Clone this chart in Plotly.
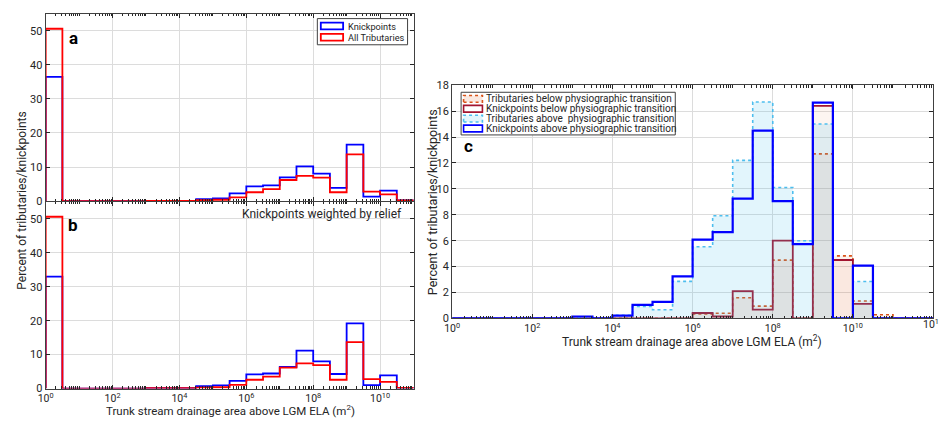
import plotly.graph_objects as go

# ---------------- data ----------------
# half-decade bins (log10 edges)
edges_ab = [i * 0.5 for i in range(23)]   # 10^0 .. 10^11
edges_c = [i * 0.5 for i in range(25)]    # 10^0 .. 10^12

knickpoints = [36.5, 0, 0, 0, 0, 0, 0.1, 0.1, 0.1, 0.6, 0.8, 2.3, 4.3, 4.6, 7.0, 10.2, 8.1, 3.9, 16.6, 1.3, 3.1, 0.2]
all_tributaries = [50.6, 0, 0, 0, 0, 0, 0.1, 0.1, 0.1, 0.3, 0.4, 1.1, 2.6, 3.5, 6.2, 7.4, 6.9, 2.6, 13.7, 2.8, 2.0, 0.2]
knickpoints_relief = [33.0, 0, 0, 0, 0, 0, 0.1, 0.1, 0.1, 0.75, 0.95, 2.3, 4.2, 4.45, 6.4, 11.2, 8.0, 4.3, 19.2, 1.0, 3.9, 0.2]

tribs_below = [0, 0, 0, 0, 0, 0, 0.05, 0, 0, 0, 0, 0, 0.35, 0.4, 1.6, 0.95, 4.5, 0, 12.7, 4.83, 1.35, 0.28, 0, 0]
knick_below = [0, 0, 0, 0, 0, 0, 0, 0, 0, 0, 0, 0, 0.42, 0.15, 2.1, 0.68, 6.0, 0, 16.4, 4.51, 1.12, 0, 0, 0]
tribs_above = [0, 0, 0, 0, 0, 0, 0.05, 0, 0.25, 0.93, 0.67, 2.86, 5.53, 7.93, 12.2, 16.7, 10.1, 6.0, 15.0, 0, 2.85, 0, 0, 0]
knick_above = [0, 0, 0, 0, 0, 0, 0.15, 0, 0.22, 1.05, 1.27, 3.25, 6.08, 6.66, 9.25, 14.5, 9.05, 5.74, 16.65, 0, 4.08, 0, 0, 0]

labels_c = ["Tributaries below physiographic transition",
            "Knickpoints below physiographic transition",
            "Tributaries above  physiographic transition",
            "Knickpoints above physiographic transition"]
labels_a = ["Knickpoints", "All Tributaries"]

FONT = "Roboto"
TXT = "#262626"
GRID = "#dcdcdc"
W, H = 939, 424


def stairs(vals, edge_exps):
    e = [10 ** v for v in edge_exps]
    x = [e[0]] + e[:-1] + [e[-1], e[-1]]
    y = [0] + list(vals) + [vals[-1], 0]
    return x, y


fig = go.Figure()


def add_stairs(vals, edges, color, width, dash, fillcolor, xa, ya):
    x, y = stairs(vals, edges)
    fig.add_trace(go.Scatter(
        x=x, y=y, mode="lines", line=dict(color=color, width=width, dash=dash, shape="hv"),
        fill="toself" if fillcolor else None, fillcolor=fillcolor,
        xaxis=xa, yaxis=ya, showlegend=False, hoverinfo="skip"))


# panel a
add_stairs(knickpoints, edges_ab, "#0000FF", 1.8, "solid", None, "x", "y")
add_stairs(all_tributaries, edges_ab, "#FF0000", 1.8, "solid", None, "x", "y")
# panel b
add_stairs(knickpoints_relief, edges_ab, "#0000FF", 1.8, "solid", None, "x2", "y2")
add_stairs(all_tributaries, edges_ab, "#FF0000", 1.8, "solid", None, "x2", "y2")
# panel c
c_styles = [
    ("#D95319", 1.6, "dot", "rgba(217,83,25,0.08)"),
    ("#A2142F", 1.8, "solid", "rgba(217,83,25,0.06)"),
    ("#4DBEEE", 1.6, "dot", "rgba(77,190,238,0.16)"),
    ("#0000FF", 2.2, "solid", None),
]
for vals, st in zip([tribs_below, knick_below, tribs_above, knick_above], c_styles):
    add_stairs(vals, edges_c, st[0], st[1], st[2], st[3], "x3", "y3")


def px(xp):
    return xp / W


def py(yp):
    return 1 - yp / H


def log_axis(domain, nmax, labels, anchor):
    majors = [10 ** n for n in range(0, nmax + 1, 2)]
    minors = []
    for n in range(0, nmax):
        for k in range(1, 10):
            v = k * 10 ** n
            if k == 1 and n % 2 == 0:
                continue
            minors.append(v)
    return dict(
        domain=domain, type="log", range=[0, nmax], anchor=anchor,
        tickmode="array", tickvals=majors,
        ticktext=["10<sup>%d</sup>" % n for n in range(0, nmax + 1, 2)],
        showticklabels=labels, ticks="inside", ticklen=4, tickcolor=TXT,
        showline=True, linecolor="#404040", linewidth=1, mirror="ticks",
        showgrid=True, gridcolor=GRID, gridwidth=1, zeroline=False,
        tickfont=dict(family=FONT, size=10.5, color=TXT),
        minor=dict(tickmode="array", tickvals=minors, ticks="inside", ticklen=2.5,
                   tickcolor=TXT, showgrid=False),
    )


def lin_axis(domain, rng, dt, anchor):
    return dict(
        domain=domain, range=rng, anchor=anchor, tickmode="linear", tick0=0, dtick=dt,
        ticks="inside", ticklen=4, tickcolor=TXT,
        showline=True, linecolor="#404040", linewidth=1, mirror="ticks",
        showgrid=True, gridcolor=GRID, gridwidth=1, zeroline=False,
        tickfont=dict(family=FONT, size=11, color=TXT),
    )


xa_dom = [px(38), px(409)]
fig.update_layout(
    width=W, height=H, margin=dict(l=0, r=0, t=0, b=0),
    plot_bgcolor="white", paper_bgcolor="white",
    xaxis=log_axis(xa_dom, 11, False, "y"),
    yaxis=lin_axis([py(201.3), py(8)], [0, 55], 10, "x"),
    xaxis2=log_axis(xa_dom, 11, True, "y2"),
    yaxis2=lin_axis([py(394.7), py(202)], [0, 55], 10, "x2"),
    xaxis3=log_axis([px(448), px(933)], 12, True, "y3"),
    yaxis3=lin_axis([py(322.3), py(81.7)], [0, 18], 2, "x3"),
    showlegend=False,
)

ann = []
shapes = []


def text(x, y, s, size=11, bold=False, xanchor="left", angle=0):
    ann.append(dict(x=px(x), y=py(y), xref="paper", yref="paper", text="<b>%s</b>" % s if bold else s,
                    showarrow=False, xanchor=xanchor, yanchor="middle", textangle=angle, borderpad=0,
                    font=dict(family=FONT, size=size, color=TXT if not bold else "black")))


# panel letters and notes
text(61, 33, "a", 17, True)
text(60, 226, "b", 17, True)
text(459, 144, "c", 17, True)
text(398, 215, "Knickpoints weighted by relief", 12, xanchor="right")

# last tick label of panel c (cut by the page edge, as in the original)
text(933, 328, "10<sup>12</sup>", 10.5, xanchor="center")

# axis titles
text(224, 417, "Trunk stream drainage area above LGM ELA (m<sup>2</sup>)", 11.5, xanchor="center")
text(14, 201, "Percent of tributaries/knickpoints", 12, xanchor="center", angle=-90)
text(690, 346, "Trunk stream drainage area above LGM ELA (m<sup>2</sup>)", 12, xanchor="center")
text(428, 202, "Percent of tributaries/knickpoints", 12.5, xanchor="center", angle=-90)

# legend panel a
shapes.append(dict(type="rect", xref="paper", yref="paper", x0=px(312), x1=px(403), y0=py(40), y1=py(13),
                   line=dict(color="#404040", width=1), fillcolor="white", layer="above"))
for i, (lab, col) in enumerate(zip(labels_a, ["#0000FF", "#FF0000"])):
    yc = 20.7 + i * 11.6
    shapes.append(dict(type="rect", xref="paper", yref="paper", x0=px(315.5), x1=px(338), y0=py(yc + 3.5),
                       y1=py(yc - 3.5), line=dict(color=col, width=1.8), fillcolor="white", layer="above"))
    text(341.5, yc, lab, 9.2)

# legend panel c
shapes.append(dict(type="rect", xref="paper", yref="paper", x0=px(457), x1=px(673), y0=py(133), y1=py(89),
                   line=dict(color="#404040", width=1), fillcolor="white", layer="above"))
leg_fill = ["rgba(250,232,224,1)", "white", "rgba(226,245,252,1)", "white"]
for i, (lab, st) in enumerate(zip(labels_c, c_styles)):
    yc = 95.8 + i * 10.2
    shapes.append(dict(type="rect", xref="paper", yref="paper", x0=px(459.5), x1=px(478.5), y0=py(yc + 3.5),
                       y1=py(yc - 3.5), line=dict(color=st[0], width=1.6, dash=st[2]),
                       fillcolor=leg_fill[i], layer="above"))
    text(481.5, yc, lab, 10)

fig.update_layout(annotations=ann, shapes=shapes)
fig.write_html("out.html")
